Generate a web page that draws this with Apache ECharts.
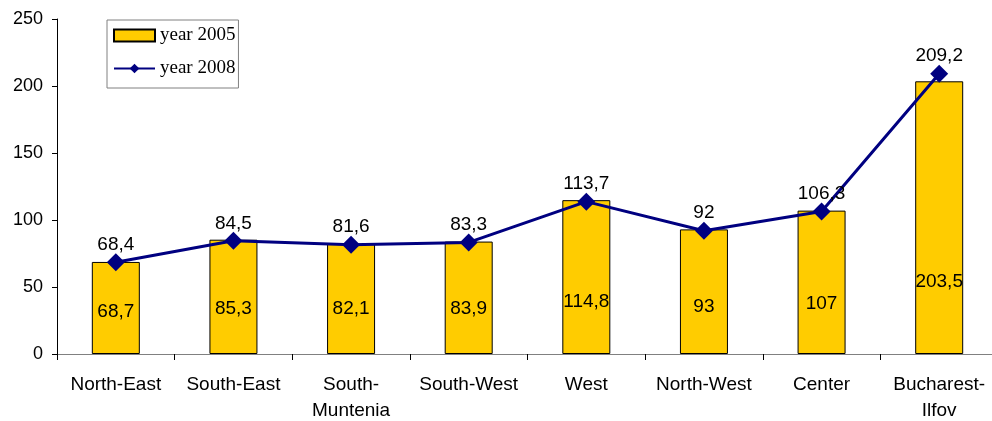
<!DOCTYPE html>
<html><head><meta charset="utf-8">
<script src="https://cdn.jsdelivr.net/npm/echarts@6/dist/echarts.min.js"></script>
<style>html,body{margin:0;padding:0;background:#fff}#c{width:992px;height:421px}</style>
</head><body><div id="c"></div>
<script>
const categories = ['North-East','South-East','South-\nMuntenia','South-West','West','North-West','Center','Bucharest-\nIlfov'];
const year2005 = [68.7, 85.3, 82.1, 83.9, 114.8, 93, 107, 203.5];
const year2008 = [68.4, 84.5, 81.6, 83.3, 113.7, 92, 106.3, 209.2];
const yTicks = [0, 50, 100, 150, 200, 250];

const fmt = v => String(v).replace('.', ',');
const chart = echarts.init(document.getElementById('c'));
chart.setOption({
  animation: false,
  grid: { left: 57, top: 19, width: 941, bottom: 67, containLabel: false, outerBoundsMode: 'none' },
  legend: {
    orient: 'vertical', left: 107, top: 20,
    padding: [6, 3, 10, 6], itemGap: 14,
    borderColor: '#808080', borderWidth: 1,
    itemWidth: 41, itemHeight: 12,
    textStyle: { fontFamily: 'Liberation Serif', fontSize: 19, color: '#000' },
    data: [{ name: 'year 2005', icon: 'rect' }, { name: 'year 2008' }]
  },
  xAxis: {
    type: 'category', data: categories,
    axisLine: { lineStyle: { color: '#808080', width: 1 } },
    axisTick: { show: true, length: 6, lineStyle: { color: '#000' } },
    axisLabel: { fontFamily: 'Liberation Sans', fontSize: 19, color: '#000', margin: 18, lineHeight: 26, interval: 0 }
  },
  yAxis: {
    type: 'value', min: yTicks[0], max: yTicks[yTicks.length-1], interval: 50,
    axisLine: { show: true, lineStyle: { color: '#000' } },
    axisTick: { show: true, length: 5, lineStyle: { color: '#000' } },
    splitLine: { show: false },
    axisLabel: { fontFamily: 'Liberation Sans', fontSize: 18, color: '#000', margin: 14 }
  },
  series: [
    {
      name: 'year 2005', type: 'bar', barWidth: 48,
      itemStyle: { color: '#FFCC00', borderColor: '#000', borderWidth: 1 },
      data: year2005.map(v => ({
        value: v,
        label: { show: true, position: 'insideBottom', distance: 17.2 + 0.2226 * v,
          formatter: p => fmt(p.value), fontFamily: 'Liberation Sans', fontSize: 19, color: '#000' }
      })),
      z: 2
    },
    {
      name: 'year 2008', type: 'line', data: year2008,
      symbol: 'diamond', symbolSize: 18,
      lineStyle: { color: '#000080', width: 3 },
      itemStyle: { color: '#000080' },
      label: { show: true, position: 'top', distance: -1, formatter: p => fmt(p.value),
        fontFamily: 'Liberation Sans', fontSize: 19, color: '#000' },
      z: 3
    }
  ]
});
</script></body></html>
